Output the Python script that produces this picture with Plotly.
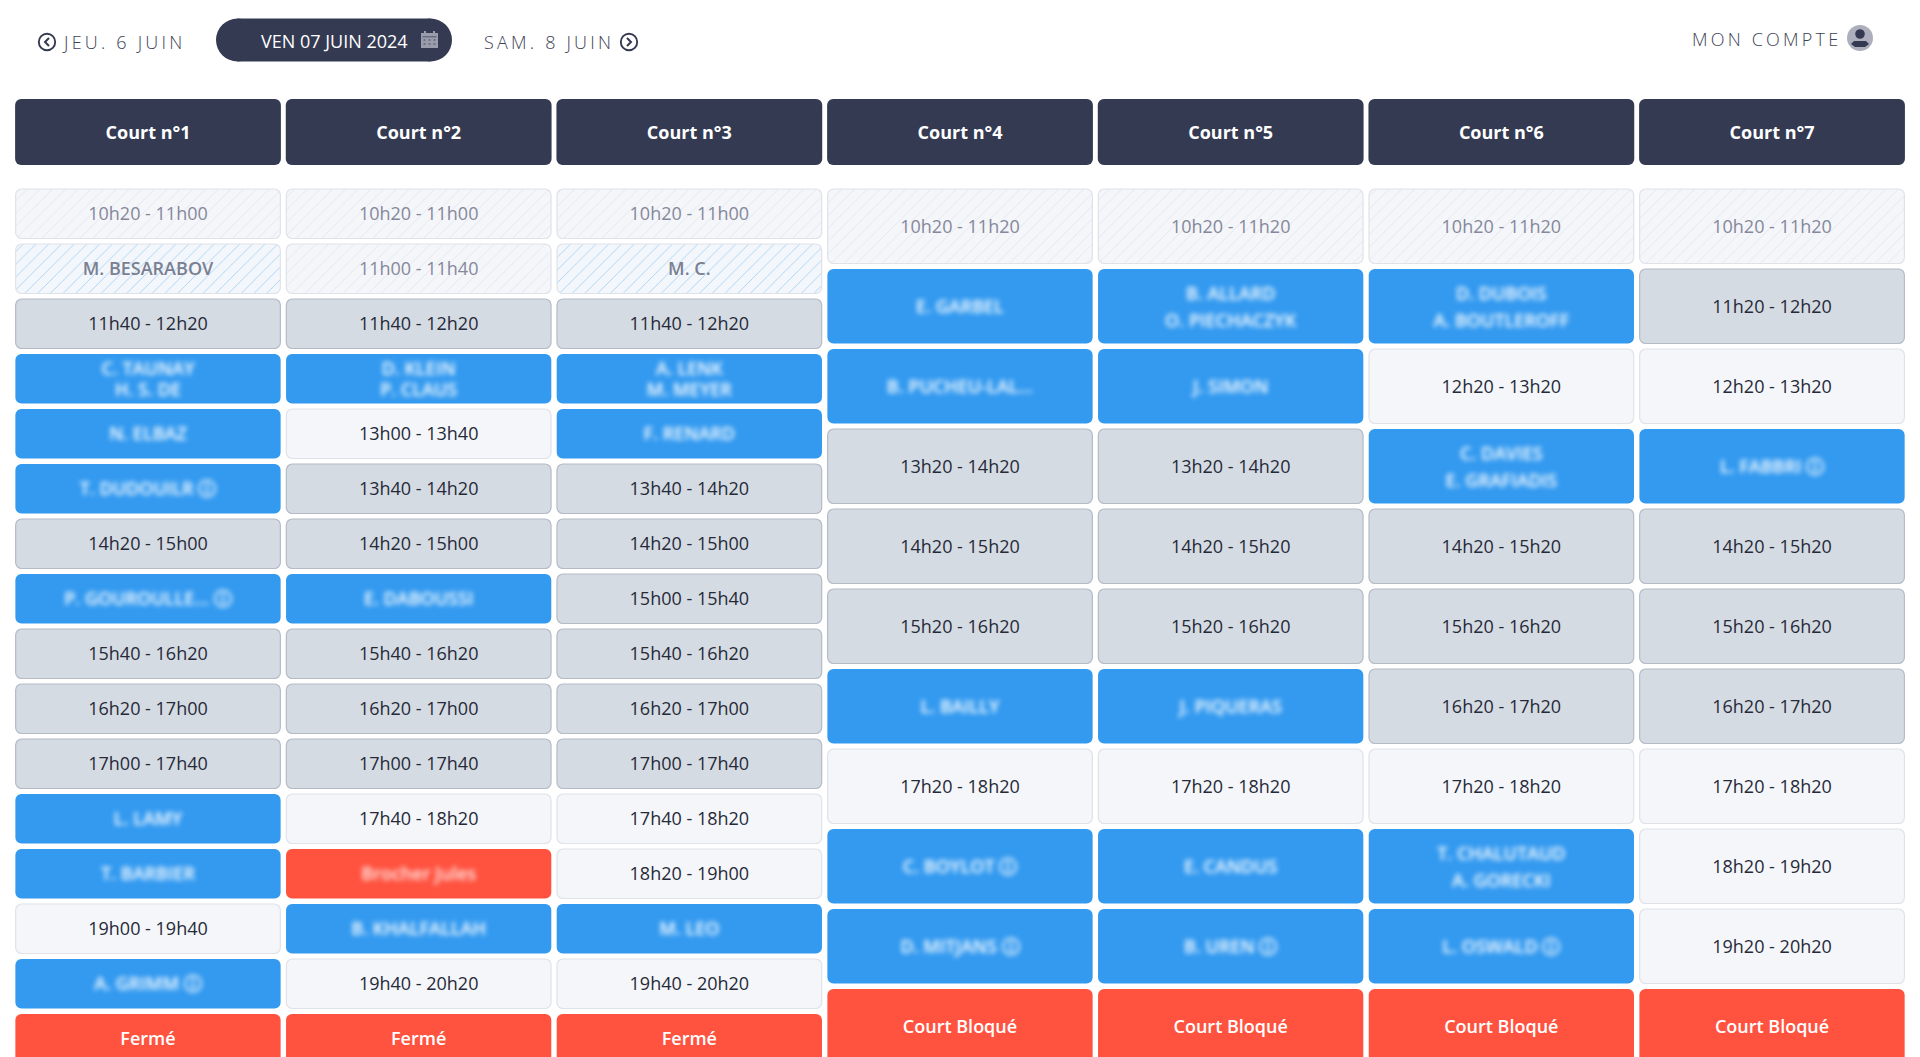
import plotly.graph_objects as go

# Schedule data, one pair of lists per court
courts = ["Court n°1", "Court n°2", "Court n°3", "Court n°4", "Court n°5", "Court n°6", "Court n°7"]

court1_labels = ["10h20 - 11h00", "M. BESARABOV", "11h40 - 12h20", "C. TAUNAY<br>H. S. DE", "N. ELBAZ",
                 "T. DUDOUILR ⓘ", "14h20 - 15h00", "P. GOUROULLE... ⓘ", "15h40 - 16h20", "16h20 - 17h00",
                 "17h00 - 17h40", "L. LAMY", "T. BARBIER", "19h00 - 19h40", "A. GRIMM ⓘ", "Fermé"]
court1_kinds = ["past", "past_booked", "open", "booked", "booked", "booked", "open", "booked", "open", "open",
                "open", "booked", "booked", "free", "booked", "closed"]

court2_labels = ["10h20 - 11h00", "11h00 - 11h40", "11h40 - 12h20", "D. KLEIN<br>P. CLAUS", "13h00 - 13h40",
                 "13h40 - 14h20", "14h20 - 15h00", "E. DABOUSSI", "15h40 - 16h20", "16h20 - 17h00",
                 "17h00 - 17h40", "17h40 - 18h20", "Brocher Jules", "B. KHALFALLAH", "19h40 - 20h20", "Fermé"]
court2_kinds = ["past", "past", "open", "booked", "free", "open", "open", "booked", "open", "open",
                "open", "free", "blocked", "booked", "free", "closed"]

court3_labels = ["10h20 - 11h00", "M. C.", "11h40 - 12h20", "A. LENK<br>M. MEYER", "F. RENARD",
                 "13h40 - 14h20", "14h20 - 15h00", "15h00 - 15h40", "15h40 - 16h20", "16h20 - 17h00",
                 "17h00 - 17h40", "17h40 - 18h20", "18h20 - 19h00", "M. LEO", "19h40 - 20h20", "Fermé"]
court3_kinds = ["past", "past_booked", "open", "booked", "booked", "open", "open", "open", "open", "open",
                "open", "free", "free", "booked", "free", "closed"]

court4_labels = ["10h20 - 11h20", "E. GARBEL", "B. PUCHEU-LAL...", "13h20 - 14h20", "14h20 - 15h20", "15h20 - 16h20",
                 "L. BAILLY", "17h20 - 18h20", "C. BOYLOT ⓘ", "D. MITJANS ⓘ", "Court Bloqué"]
court4_kinds = ["past", "booked", "booked", "open", "open", "open", "booked", "free", "booked", "booked", "closed"]

court5_labels = ["10h20 - 11h20", "B. ALLARD<br>O. PIECHACZYK", "J. SIMON", "13h20 - 14h20", "14h20 - 15h20",
                 "15h20 - 16h20", "J. PIQUERAS", "17h20 - 18h20", "E. CANDUS", "B. UREN ⓘ", "Court Bloqué"]
court5_kinds = ["past", "booked", "booked", "open", "open", "open", "booked", "free", "booked", "booked", "closed"]

court6_labels = ["10h20 - 11h20", "D. DUBOIS<br>A. BOUTLEROFF", "12h20 - 13h20", "C. DAVIES<br>E. GRAFIADIS",
                 "14h20 - 15h20", "15h20 - 16h20", "16h20 - 17h20", "17h20 - 18h20", "T. CHALUTAUD<br>A. GORECKI",
                 "L. OSWALD ⓘ", "Court Bloqué"]
court6_kinds = ["past", "booked", "free", "booked", "open", "open", "open", "free", "booked", "booked", "closed"]

court7_labels = ["10h20 - 11h20", "11h20 - 12h20", "12h20 - 13h20", "L. FABBRI ⓘ", "14h20 - 15h20", "15h20 - 16h20",
                 "16h20 - 17h20", "17h20 - 18h20", "18h20 - 19h20", "19h20 - 20h20", "Court Bloqué"]
court7_kinds = ["past", "open", "free", "booked", "open", "open", "open", "free", "free", "free", "closed"]

all_labels = [court1_labels, court2_labels, court3_labels, court4_labels, court5_labels, court6_labels, court7_labels]
all_kinds = [court1_kinds, court2_kinds, court3_kinds, court4_kinds, court5_kinds, court6_kinds, court7_kinds]

W, H = 1920, 1057
FONT = "Open Sans"
DARK = "#343a52"
TEXT = "#262a38"

# Look of each slot kind
styles = {
    "past": dict(fill="#f4f6fa", line="#dfe2e9", color="#85889a", hatch="#dadee6"),
    "past_booked": dict(fill="#f3f7fb", line="#dfe2e9", color="#7a7f92", hatch="#84c0f2", weight=600),
    "open": dict(fill="#d5dbe3", line="#b4bbc6", color=TEXT),
    "free": dict(fill="#f4f6fa", line="#dfe2e9", color=TEXT),
    "booked": dict(fill="#339af0", color="#ffffff", blur=True, weight=600),
    "blocked": dict(fill="#ff5340", color="rgba(255,255,255,0.9)", blur=True, weight=600),
    "closed": dict(fill="#ff5340", color="#ffffff", weight=600),
}

fig = go.Figure()

# Court header row
fig.add_trace(go.Bar(
    x=list(range(len(courts))),
    y=[66] * len(courts),
    base=[99] * len(courts),
    width=0.982,
    text=courts,
    textposition="inside",
    insidetextanchor="middle",
    textangle=0,
    constraintext="none",
    textfont=dict(family=FONT, size=18, color="#ffffff", weight=700),
    marker=dict(color=DARK, line=dict(width=0), cornerradius=6),
    hoverinfo="skip",
))

# Slot boxes, one trace per kind. The first three courts run on a shorter grid
text_traces = []
for kind, st in styles.items():
    xs, bases, heights, tx, ty, tt = [], [], [], [], [], []
    for i, (labels, kinds) in enumerate(zip(all_labels, all_kinds)):
        short = i < 3
        pitch = 55 if short else 80
        gap = 21 if short else 27
        nudge = 1.8 if short else 2.4
        for r, (label, k) in enumerate(zip(labels, kinds)):
            if k != kind:
                continue
            xs.append(i)
            bases.append(189 + r * pitch)
            heights.append(pitch - 5.5)
            mid = 189 + r * pitch + (pitch - 5.5) / 2 + nudge
            lines = label.split("<br>")
            for n, part in enumerate(lines):
                tx.append(i)
                ty.append(mid + (n - (len(lines) - 1) / 2) * gap)
                tt.append(part)
    has_line = "line" in st
    marker = dict(color=st["fill"], cornerradius=6,
                  line=dict(color=st.get("line", st["fill"]), width=1.2 if has_line else 0))
    if "hatch" in st:
        marker["pattern"] = dict(shape="/", size=9, solidity=0.07, fgcolor=st["hatch"], bgcolor=st["fill"],
                                 fillmode="replace")
    fig.add_trace(go.Bar(x=xs, y=heights, base=bases, width=0.978 if has_line else 0.98, marker=marker,
                         hoverinfo="skip"))
    font = dict(family=FONT, size=18, color=st["color"])
    if "weight" in st:
        font["weight"] = st["weight"]
    text_traces.append(go.Scatter(x=tx, y=ty, text=tt, mode="text", textposition="middle center",
                                  textfont=font, hoverinfo="skip"))

fig.add_traces(text_traces)


# Navigation bar is drawn in screen pixels, converted to paper space
def px(v):
    return v / W


def py(v):
    return 1 - v / H


def path(points, close=False):
    d = " ".join(("M" if n == 0 else "L") + f" {px(a):.5f} {py(b):.5f}" for n, (a, b) in enumerate(points))
    return d + (" Z" if close else "")


def circle(cx, cy, r, fill="rgba(0,0,0,0)", line=None, width=0):
    return dict(type="circle", xref="paper", yref="paper", x0=px(cx - r), x1=px(cx + r), y0=py(cy + r), y1=py(cy - r),
                fillcolor=fill, line=dict(color=line or fill, width=width))


def rect(x0, y0, x1, y1, fill):
    return dict(type="rect", xref="paper", yref="paper", x0=px(x0), x1=px(x1), y0=py(y1), y1=py(y0),
                fillcolor=fill, line=dict(width=0))


def line(points, color, width):
    return dict(type="path", xref="paper", yref="paper", path=path(points), line=dict(color=color, width=width))


# Pill behind the date, built from two end circles and a rectangle
shapes = [
    circle(237.5, 40, 21.5, fill=DARK),
    circle(430.5, 40, 21.5, fill=DARK),
    rect(237.5, 18.5, 430.5, 61.5, DARK),
    # previous / next arrows
    circle(47, 42, 8.2, line=DARK, width=1.9),
    line([(49, 38), (45, 42), (49, 46)], DARK, 2),
    circle(629, 42, 8.2, line=DARK, width=1.9),
    line([(627, 38), (631, 42), (627, 46)], DARK, 2),
    # calendar
    rect(421, 33, 438, 48, "#9a9cab"),
    rect(424, 31, 426, 35, "#9a9cab"),
    rect(433, 31, 435, 35, "#9a9cab"),
    rect(422.5, 36.5, 436.5, 37.2, DARK),
    # account avatar
    circle(1860, 38, 13, fill="#adb0bc"),
    circle(1860, 34, 4.8, fill=DARK),
    dict(type="path", xref="paper", yref="paper", fillcolor=DARK, line=dict(width=0),
         path=path([(1851, 44), (1854, 41), (1866, 41), (1869, 44), (1865, 47), (1855, 47)], close=True)),
]
for cx in (424.5, 429.5, 434.5):
    for cy in (40, 44):
        shapes.append(rect(cx - 1, cy - 1, cx + 1, cy + 1, "#6f7286"))


def nav_text(text, x, y, size=18, color="#3d4256", spacing=3.2, weight=300):
    return dict(text=f'<span style="letter-spacing:{spacing}px">{text}</span>', x=px(x), y=py(y),
                xref="paper", yref="paper", xanchor="left", yanchor="middle", showarrow=False,
                font=dict(family=FONT, size=size, color=color, weight=weight))


annotations = [
    nav_text("JEU. 6 JUIN", 60, 42),
    nav_text("VEN 07 JUIN 2024", 259, 41, color="#ffffff", spacing=0, weight=400),
    nav_text("SAM. 8 JUIN", 482, 42),
    nav_text("MON COMPTE", 1690, 39),
]

fig.update_layout(
    width=W,
    height=H,
    margin=dict(l=0, r=0, t=0, b=0),
    paper_bgcolor="#ffffff",
    plot_bgcolor="#ffffff",
    barmode="overlay",
    showlegend=False,
    shapes=shapes,
    annotations=annotations,
    xaxis=dict(visible=False, range=[-148 / 270.67, (W - 148) / 270.67], fixedrange=True),
    yaxis=dict(visible=False, range=[H, 0], fixedrange=True),
)

# The player names are blurred out on the original page
blurred = [n for n, st in enumerate(styles.values()) if st.get("blur")]
post = "document.body.style.margin='0';" + f"""
var layers = document.querySelectorAll('.scatterlayer .trace');
{blurred}.forEach(function(n) {{
    layers[n].querySelectorAll('text').forEach(function(t) {{ t.style.filter = 'blur(2.6px)'; }});
}});
"""

fig.write_html("out.html", config={"displayModeBar": False}, post_script=post)
